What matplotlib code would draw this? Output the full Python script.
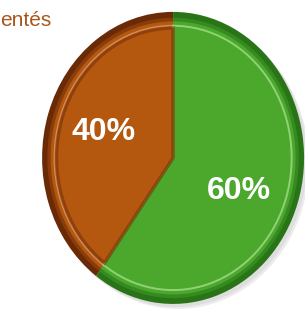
import matplotlib
matplotlib.use("Agg")
import matplotlib.pyplot as plt

# data
title_text = "entés"
shares = [40, 60]
share_labels = ["40%", "60%"]
rim_colors = ["#6a2a05", "#2a7418"]
fill_colors = ["#b5580f", "#4ba82d"]
bevel_colors = ["#e0a070", "#a8e08c"]
label_pos = [(-0.53, 0.18), (0.50, -0.23)]

fig = plt.figure(figsize=(3.05, 3.13), dpi=100)
fig.patch.set_facecolor("white")
rect = [0.138, 0.029, 0.859, 0.933]


def pie_layer(ax, radius, colors, **kw):
    return ax.pie(shares, startangle=90, counterclock=True, radius=radius,
                  colors=colors, **kw)


# soft shadow, offset down-right
for dx, dy, c in [(0.016, -0.016, "#ececec"), (0.010, -0.010, "#dedede")]:
    sh = fig.add_axes([rect[0] + dx, rect[1] + dy, rect[2], rect[3]])
    pie_layer(sh, 1.0, [c, c], wedgeprops=dict(linewidth=0))
    sh.set_aspect("auto")
    sh.set_xlim(-1, 1)
    sh.set_ylim(-1, 1)
    sh.axis("off")

ax = fig.add_axes(rect)
pie_layer(ax, 1.0, rim_colors, wedgeprops=dict(linewidth=0))
pie_layer(ax, 0.96, ["#8a3c0a", "#358a20"], wedgeprops=dict(linewidth=0))
pie_layer(ax, 0.935, fill_colors, wedgeprops=dict(linewidth=0))
# thin light bevel line
ax.pie(shares, startangle=90, counterclock=True, radius=0.905,
       wedgeprops=dict(fill=False, linewidth=1.4))
for w, c in zip(ax.patches[-2:], bevel_colors):
    w.set_edgecolor(c)
    w.set_alpha(0.75)
pie_layer(ax, 0.89, fill_colors, wedgeprops=dict(linewidth=0))
# dark inner shading along the brown slice's straight edges
wedges, _ = pie_layer(ax, 0.89, ["none", "none"],
                      wedgeprops=dict(fill=False, linewidth=0))
wedges[0].set_edgecolor("#7a3006")
wedges[0].set_linewidth(2.5)
wedges[0].set_alpha(0.6)

for (x, y), s in zip(label_pos, share_labels):
    ax.text(x, y, s, color="white", fontsize=23, fontweight="bold",
            family="Liberation Sans", ha="center", va="center")

ax.set_aspect("auto")
ax.set_xlim(-1, 1)
ax.set_ylim(-1, 1)
ax.axis("off")

fig.text(0.0, 0.936, title_text, color="#a8561a", fontsize=15,
         family="Liberation Sans", ha="left", va="center")

fig.savefig("out.png", dpi=100, facecolor="white")
